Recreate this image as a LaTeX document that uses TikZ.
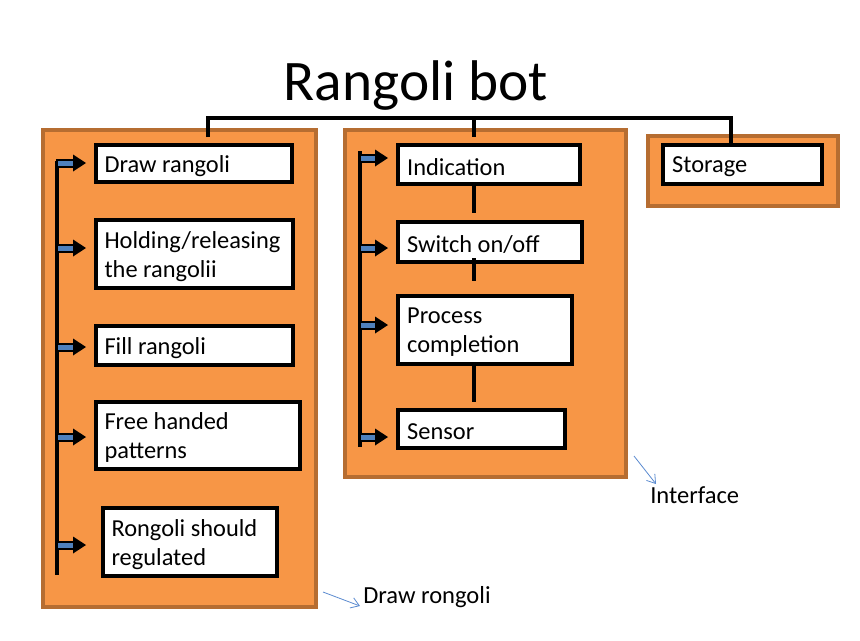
\documentclass[tikz,border=0pt]{standalone}
\usepackage{fontspec}
\setmainfont{Carlito}
\usetikzlibrary{fit,arrows.meta}
\definecolor{orfill}{HTML}{F79646}
\definecolor{ordraw}{HTML}{B66D31}
\definecolor{arblue}{HTML}{4F81BD}
\definecolor{callout}{HTML}{5B8BD0}
\begin{document}
\begin{tikzpicture}[x=0.75pt,y=-0.75pt,
  obox/.style={draw=ordraw,fill=orfill,line width=2.3pt,inner sep=0pt},
  wbox/.style={draw=black,fill=white,line width=2.6pt,inner sep=0pt},
  btxt/.style={anchor=west,inner sep=0pt,align=left,yshift=-1.8pt,font=\fontsize{18.3}{21.8}\selectfont},
  conn/.style={draw=black,line width=3pt},
  callarrow/.style={draw=callout,line width=0.6pt,-{Straight Barb[length=6pt,width=8pt]}}]
\useasboundingbox (0,0) rectangle (860,640);
\fill[white] (0,0) rectangle (860,640);

% title
\node[anchor=base,inner sep=0pt,font=\fontsize{43}{50}\selectfont] (title) at (416,100) {Rangoli bot};

% orange containers
\node[obox,fit={(43,130) (316,607)}] (L) {};
\node[obox,fit={(345,130) (626,477)}] (M) {};
\node[obox,fit={(648,136) (838,206)}] (R) {};

% tree connectors
\coordinate (tl) at (208,118);
\coordinate (tm) at (474,118);
\coordinate (tr) at (731,118);
\coordinate (dl) at (208,137);
\coordinate (dm) at (474,137);
\draw[conn] (dl) -- (tl) -- (tr) -- (731,145);
\draw[conn] (tm) -- (dm);

% left boxes
\node[wbox,fit={(96,145) (292,182)}] (l1) {};
\node[wbox,fit={(96,220) (293,288)}] (l2) {};
\node[wbox,fit={(96,326) (293,365)}] (l3) {};
\node[wbox,fit={(96,402) (300,469)}] (l4) {};
\node[wbox,fit={(103,508) (277,576)}] (l5) {};
\node[btxt] at ([xshift=7.5pt]l1.west) {Draw rangoli};
\node[btxt] at ([xshift=7.5pt]l2.west) {Holding/releasing\\the rangolii};
\node[btxt] at ([xshift=7.5pt]l3.west) {Fill rangoli};
\node[btxt] at ([xshift=7.5pt]l4.west) {Free handed\\patterns};
\node[btxt] at ([xshift=7.5pt]l5.west) {Rongoli should\\regulated};

% middle boxes
\node[wbox,fit={(398,145) (580,184)}] (m1) {};
\node[wbox,fit={(398,222) (582,262)}] (m2) {};
\node[wbox,fit={(398,296) (572,364)}] (m3) {};
\node[wbox,fit={(398,410) (565,448)}] (m4) {};
\node[btxt] at ([xshift=8pt]m1.west) {Indication};
\node[btxt] at ([xshift=8pt]m2.west) {Switch on/off};
\node[btxt] at ([xshift=8pt]m3.west) {Process\\completion};
\node[btxt] at ([xshift=8pt]m4.west) {Sensor};

\draw[conn] (m1.south -| 474,0) -- (474,213);
\draw[conn] (474,258) -- (474,281);
\draw[conn] (m3.south -| 474,0) -- (474,402);

% storage
\node[wbox,fit={(663,145) (822,184)}] (s1) {};
\node[btxt] at ([xshift=8pt]s1.west) {Storage};

% left bar and arrows
\draw[conn] (57,161) -- (57,575);
\foreach \yy in {163,248,347,437,545}{
  \draw[black,fill=arblue,line width=1.5pt] (57,\yy-3.5) rectangle (75,\yy+3.5);
  \fill[black] (73,\yy-8.5) -- (86,\yy) -- (73,\yy+8.5) -- cycle;
}
% middle bar and arrows
\draw[conn] (360,151) -- (360,447);
\foreach \yy in {158,248,325,437}{
  \draw[black,fill=arblue,line width=1.5pt] (360,\yy-3.5) rectangle (377,\yy+3.5);
  \fill[black] (375,\yy-8.5) -- (388,\yy) -- (375,\yy+8.5) -- cycle;
}

% callouts
\node[anchor=base west,inner sep=0pt,font=\fontsize{18.4}{22}\selectfont] (lab1) at (650,503) {Interface};
\node[anchor=base west,inner sep=0pt,font=\fontsize{18.4}{22}\selectfont] (lab2) at (363,603) {Draw rongoli};
\coordinate (c1s) at (634,456);
\coordinate (c2s) at (323,592);
\draw[callarrow] (c1s) -- (656,484);
\draw[callarrow] (c2s) -- (360,606);
\end{tikzpicture}
\end{document}
